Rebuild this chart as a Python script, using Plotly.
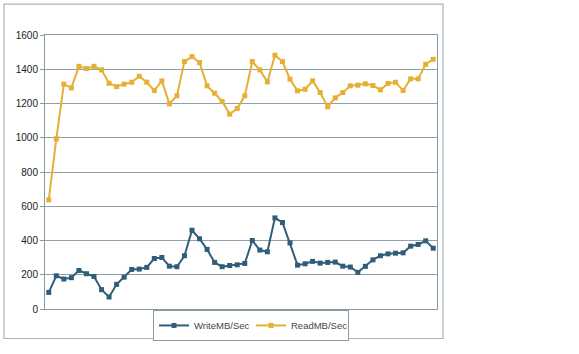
import plotly.graph_objects as go

samples = list(range(1, 53))
write_mb = [97, 194, 175, 183, 225, 206, 190, 113, 70, 144, 186, 231, 233, 243, 295, 301,
            250, 247, 311, 460, 410, 348, 272, 247, 254, 258, 266, 400, 344, 334, 532, 505,
            386, 256, 264, 278, 268, 272, 274, 250, 245, 214, 249, 287, 311, 322, 326, 328,
            367, 377, 398, 355]
read_mb = [637, 994, 1313, 1291, 1417, 1404, 1417, 1396, 1318, 1299, 1313, 1324, 1359, 1324,
           1276, 1332, 1198, 1245, 1445, 1474, 1439, 1303, 1260, 1212, 1138, 1171, 1245, 1445,
           1396, 1326, 1482, 1445, 1342, 1274, 1283, 1332, 1264, 1181, 1233, 1264, 1303, 1307,
           1315, 1305, 1280, 1317, 1324, 1276, 1344, 1344, 1429, 1458]
y_ticks = [0, 200, 400, 600, 800, 1000, 1200, 1400, 1600]

WRITE_C = "#2f5f78"
READ_C = "#e6b033"
GRID_C = "#90a0aa"

fig = go.Figure()
fig.add_trace(go.Scatter(x=[str(s) for s in samples], y=write_mb, name="WriteMB/Sec",
                         mode="lines+markers",
                         line=dict(color=WRITE_C, width=2),
                         marker=dict(symbol="square", size=5, color=WRITE_C)))
fig.add_trace(go.Scatter(x=[str(s) for s in samples], y=read_mb, name="ReadMB/Sec",
                         mode="lines+markers",
                         line=dict(color=READ_C, width=2),
                         marker=dict(symbol="square", size=5, color=READ_C)))

fig.update_layout(
    width=579, height=354,
    margin=dict(l=45, r=142, t=35, b=45),
    paper_bgcolor="white", plot_bgcolor="white",
    font=dict(family="Liberation Sans, Arial, sans-serif", size=10, color="#222222"),
    showlegend=True,
    legend=dict(orientation="h", x=0.5255, y=-0.06, xanchor="center", yanchor="middle",
                bordercolor="#8a9aa4", borderwidth=1, font=dict(size=9.5, color="#444444"),
                itemwidth=30, entrywidth=52, entrywidthmode="pixels", tracegroupgap=0),
    shapes=[dict(type="rect", xref="paper", yref="paper",
                 x0=-0.1046, x1=1.0153, y0=-0.1077, y1=1.113,
                 line=dict(color="#a7b4bc", width=1.2), layer="below")],
)
fig.update_xaxes(type="category", range=[-0.5, len(samples) - 0.5], showticklabels=False,
                 showgrid=False, showline=True, mirror=True, linecolor="#8a9aa4", linewidth=1,
                 ticks="")
fig.update_yaxes(range=[0, 1600], tickvals=y_ticks, ticktext=[str(v) for v in y_ticks],
                 showgrid=True, gridcolor=GRID_C, gridwidth=1.2, showline=True, mirror=True,
                 linecolor="#8a9aa4", linewidth=1, ticks="outside", ticklen=4,
                 tickcolor="#8a9aa4", zeroline=False)

fig.write_html("out.html")
